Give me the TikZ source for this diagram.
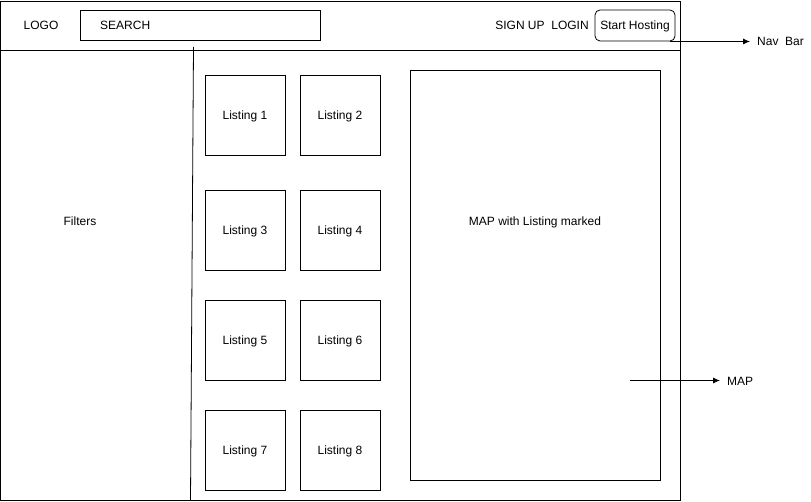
\documentclass[tikz,border=0pt]{standalone}
\usepackage{fontspec}
\setmainfont{Liberation Sans}
\usetikzlibrary{arrows.meta}
\begin{document}
\begin{tikzpicture}[%
		x=1pt, y=-1pt,
		>=Latex,
		font=\fontsize{12}{14}\selectfont,
		box/.style={draw, thick, minimum width=80pt, minimum height=80pt, inner sep=0pt, text height=9pt, text depth=0pt},
		label text/.style={inner sep=0pt, anchor=center, text height=9pt, text depth=0pt},
		pointer/.style={->, thick, >={Latex[length=7pt, width=6pt]}}
		]

		%% Rahmen
		\useasboundingbox (0,0) rectangle (811,502);
		\draw[thick, fill=white] (0.5, 1) rectangle (680, 500);

		%% Nav Bar
		\draw[thick] (0.5, 50) -- (680, 50);
		\node[label text] (logo) at (41, 25.5) {LOGO};
		\node[draw, thick, minimum width=240pt, minimum height=30pt, inner sep=0pt] (search) at (200, 25) {};
		\node[label text, anchor=west] (searchtext) at (100, 25.5) {SEARCH};
		\node[label text] (signup) at (520, 25.5) {SIGN UP};
		\node[label text] (login) at (570, 25.5) {LOGIN};
		\node[draw, thick, rounded corners=5pt, minimum width=80pt, minimum height=31pt, inner sep=0pt, text height=9pt, text depth=0pt] (hosting) at (635, 25.5) {Start Hosting};

		%% Filter-Spalte
		\coordinate (divtop) at (193.5, 47);
		\coordinate (divbot) at (190.5, 500);
		\draw[thick] (divtop) -- (divbot);
		\node[label text] (filters) at (80, 221) {Filters};

		%% Listings
		\node[box] (listing1) at (245, 115) {Listing 1};
		\node[box] (listing2) at (340, 115) {Listing 2};
		\node[box] (listing3) at (245, 230) {Listing 3};
		\node[box] (listing4) at (340, 230) {Listing 4};
		\node[box] (listing5) at (245, 340) {Listing 5};
		\node[box] (listing6) at (340, 340) {Listing 6};
		\node[box] (listing7) at (245, 450) {Listing 7};
		\node[box] (listing8) at (340, 450) {Listing 8};

		%% Karte
		\node[draw, thick, minimum width=250pt, minimum height=410pt, inner sep=0pt] (map) at (535, 275) {};
		\node[label text] (maptext) at (535, 221) {MAP with Listing marked};

		%% Beschriftungen
		\node[label text, anchor=west] (navlabel) at (757, 41.5) {Nav\ \ Bar};
		\coordinate (navstart) at (670, 41.5);
		\coordinate (navend) at (750, 41.5);
		\draw[pointer] (navstart) -- (navend);
		\node[label text, anchor=west] (maplabel) at (727, 381) {MAP};
		\coordinate (mapstart) at (630, 380.5);
		\coordinate (mapend) at (720, 380.5);
		\draw[pointer] (mapstart) -- (mapend);
	\end{tikzpicture}
\end{document}
